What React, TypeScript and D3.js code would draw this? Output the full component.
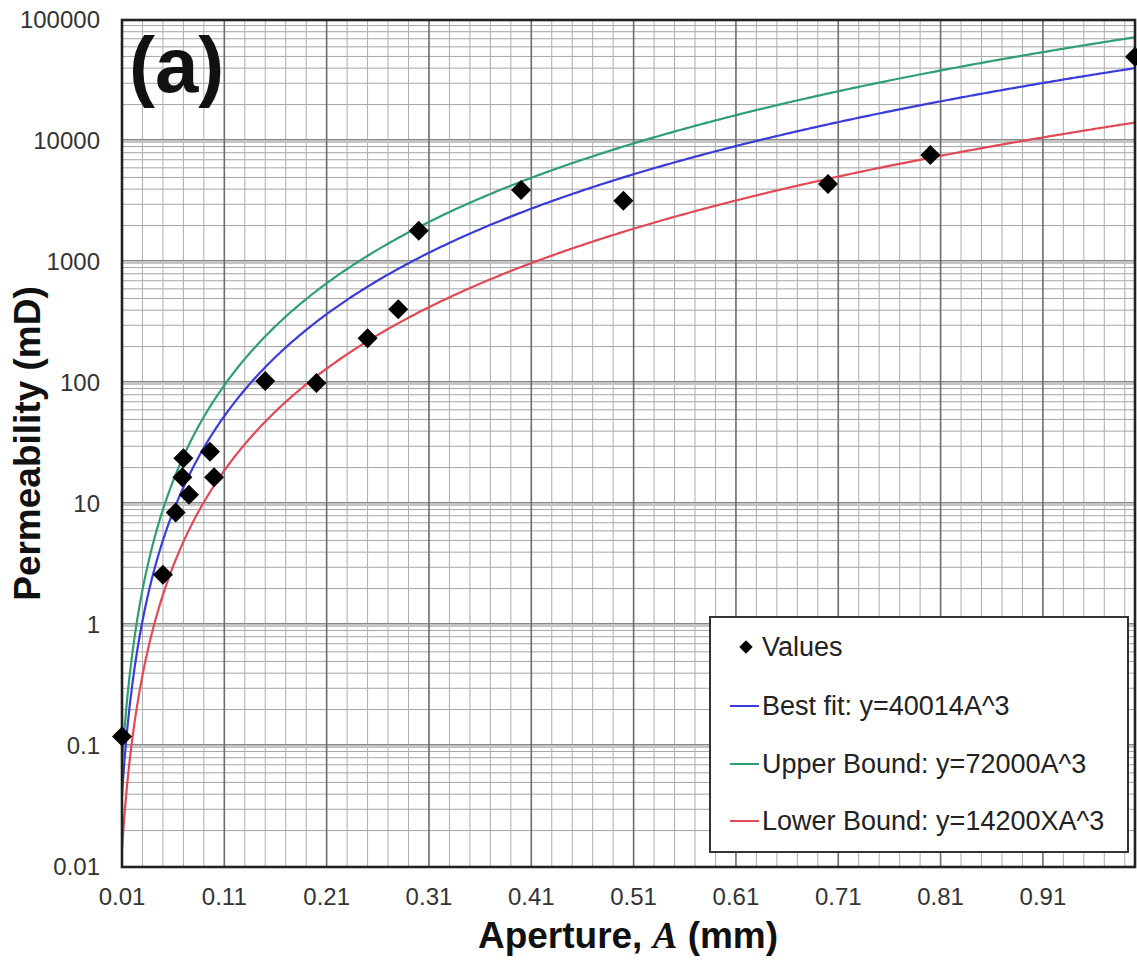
import React from "react";
import * as d3 from "d3";

// Measured permeability against fracture aperture
const apertures = [0.01, 0.05, 0.0625, 0.069, 0.07, 0.0755, 0.096, 0.1, 0.15, 0.2, 0.25, 0.28, 0.3, 0.4, 0.5, 0.7, 0.8, 1.0];
const permeability = [0.12, 2.6, 8.5, 16.6, 23.9, 11.9, 27, 16.6, 104, 100, 234, 406, 1815, 3940, 3210, 4410, 7660, 49700];

// Cubic-law fits: k = c * A^3
const fitNames = ["Best fit", "Upper Bound", "Lower Bound"];
const fitCoefficients = [40014, 72000, 14200];
const fitSuffixes = ["A^3", "A^3", "XA^3"];
const fitColors = ["#3b3bd8", "#2f9f72", "#e04a57"];

// Axis ticks
const xTickValues = [0.01, 0.11, 0.21, 0.31, 0.41, 0.51, 0.61, 0.71, 0.81, 0.91];
const yTickValues = [0.01, 0.1, 1, 10, 100, 1000, 10000, 100000];
const yTickLabels = ["0.01", "0.1", "1", "10", "100", "1000", "10000", "100000"];

const W = 1137;
const H = 960;
const left = 122;
const right = 1135;
const top = 20;
const bottom = 867;
const FONT = "'Liberation Sans', Arial, Helvetica, sans-serif";

export default function App() {
  const x = d3.scaleLinear().domain([0.01, 1.0]).range([left, right]);
  const y = d3.scaleLog().domain([0.01, 100000]).range([bottom, top]);

  // grid positions
  const xMinor: number[] = [];
  for (let k = 1; k < 50; k++) {
    if (k % 5 !== 0) xMinor.push(0.01 + 0.02 * k);
  }
  const xMajor = xTickValues.slice(1);
  const yMinor: number[] = [];
  for (let d = -2; d <= 4; d++) {
    for (let m = 2; m <= 9; m++) yMinor.push(m * Math.pow(10, d));
  }
  const yMajor = yTickValues.slice(1, -1);

  const samples = d3.range(0, 401).map((i) => 0.01 + (0.99 * i) / 400);
  const line = d3
    .line<number[]>()
    .x((d) => x(d[0]))
    .y((d) => y(d[1]));
  const curvePath = (c: number) =>
    line(samples.map((a) => [a, Math.max(c * a * a * a, 0.001)]));

  const diamond = (s: number) => d3.symbol().type(d3.symbolSquare).size(s)() as string;
  const bigDiamond = diamond(200);
  const smallDiamond = diamond(90);

  const legendX = 710;
  const legendY = 617;
  const legendW = 418;
  const legendH = 235;
  const rowBase = [656, 715, 773, 830];

  return (
    <svg
      width={W}
      height={H}
      style={{ position: "absolute", left: 0, top: 0, background: "#fff" }}
      fontFamily={FONT}
    >
      <defs>
        <clipPath id="plotClip">
          <rect x={left} y={top} width={right - left} height={bottom - top} />
        </clipPath>
      </defs>
      <rect x={0} y={0} width={W} height={H} fill="#fff" />

      {/* grid */}
      <g>
        {yMinor.map((v, i) => (
          <line key={"ym" + i} x1={left} x2={right} y1={y(v)} y2={y(v)} stroke="#a5a5a5" strokeWidth={1} />
        ))}
        {xMinor.map((v, i) => (
          <line key={"xm" + i} x1={x(v)} x2={x(v)} y1={top} y2={bottom} stroke="#adadad" strokeWidth={1} />
        ))}
        {yMajor.map((v, i) => (
          <g key={"yM" + i}>
            <line x1={left} x2={right} y1={y(v)} y2={y(v)} stroke="#c4c4c4" strokeWidth={4} />
            <line x1={left} x2={right} y1={y(v) - 1.5} y2={y(v) - 1.5} stroke="#888" strokeWidth={1} />
          </g>
        ))}
        {xMajor.map((v, i) => (
          <line key={"xM" + i} x1={x(v)} x2={x(v)} y1={top} y2={bottom} stroke="#6c6c6c" strokeWidth={1.6} />
        ))}
      </g>

      {/* fitted curves */}
      <g clipPath="url(#plotClip)">
        {fitCoefficients.map((c, i) => (
          <path key={"fit" + i} d={curvePath(c) as string} fill="none" stroke={fitColors[i]} strokeWidth={2.2} />
        ))}
      </g>

      {/* plot frame */}
      <rect x={left} y={top} width={right - left} height={bottom - top} fill="none" stroke="#222" strokeWidth={2.6} />

      {/* measured values */}
      <g>
        {apertures.map((a, i) => (
          <path
            key={"pt" + i}
            d={bigDiamond}
            transform={`translate(${x(a)},${y(permeability[i])}) rotate(45)`}
            fill="#000"
          />
        ))}
      </g>

      {/* legend */}
      <g>
        <rect x={legendX} y={legendY} width={legendW} height={legendH} fill="#fff" stroke="#333" strokeWidth={2} />
        <path d={smallDiamond} transform={`translate(746,${rowBase[0] - 9}) rotate(45)`} fill="#000" />
        <text x={762} y={rowBase[0]} fontSize={27} fill="#222">Values</text>
        {fitNames.map((n, i) => (
          <g key={"lg" + i}>
            <line x1={730} x2={759} y1={rowBase[i + 1] - 9} y2={rowBase[i + 1] - 9} stroke={fitColors[i]} strokeWidth={2} />
            <text x={762} y={rowBase[i + 1]} fontSize={27} fill="#222">
              {`${n}: y=${fitCoefficients[i]}${fitSuffixes[i]}`}
            </text>
          </g>
        ))}
      </g>

      {/* panel tag */}
      <text x={129} y={92} fontSize={78} fontWeight="bold" fill="#111">(a)</text>

      {/* x tick labels */}
      {xTickValues.map((v, i) => (
        <text key={"xt" + i} x={x(v)} y={905} fontSize={24} fill="#333" textAnchor="middle">
          {d3.format(".2f")(v)}
        </text>
      ))}

      {/* y tick labels */}
      {yTickValues.map((v, i) => (
        <text key={"yt" + i} x={100} y={y(v) + 8} fontSize={24} fill="#333" textAnchor="end">
          {yTickLabels[i]}
        </text>
      ))}

      {/* axis titles */}
      <text x={628} y={948} fontSize={37} fontWeight="bold" fill="#111" textAnchor="middle">
        Aperture,{" "}
        <tspan fontFamily="'Liberation Serif', 'DejaVu Serif', serif" fontStyle="italic">A</tspan>
        {" "}(mm)
      </text>
      <text
        transform={`translate(40,${(top + bottom) / 2}) rotate(-90)`}
        fontSize={37}
        fontWeight="bold"
        fill="#111"
        textAnchor="middle"
      >
        Permeability (mD)
      </text>
    </svg>
  );
}
